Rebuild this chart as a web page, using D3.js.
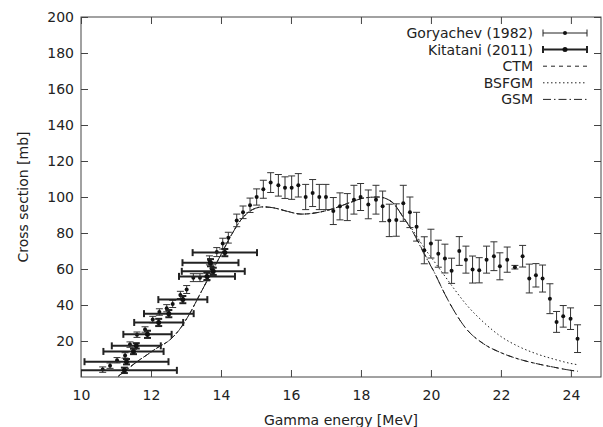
<!DOCTYPE html>
<html>
<head>
<meta charset="utf-8">
<script src="https://cdn.jsdelivr.net/npm/d3@7"></script>
<style>
body { margin: 0; background: #fff; }
text { font-family: "DejaVu Sans", sans-serif; fill: #222; }
</style>
</head>
<body>
<script>
width = 603
height = 427

// Goryachev (1982): energy, cross section, error
goryE = [10.62, 10.83, 11.03, 11.26, 11.40, 11.60, 11.83, 12.05, 12.24, 12.45, 12.62, 12.84,
    13.02, 13.21, 13.40, 13.59, 13.67, 13.73, 13.88, 14.05, 14.21, 14.45, 14.63, 14.83,
    15.02, 15.21, 15.42, 15.64, 15.83, 16.02, 16.21, 16.42, 16.62, 16.81, 17.00, 17.21,
    17.40, 17.61, 17.80, 17.99, 18.21, 18.43, 18.62, 18.81, 19.01, 19.21, 19.40, 19.59,
    19.81, 20.00, 20.21, 20.40, 20.59, 20.81, 21.00, 21.19, 21.38, 21.59, 21.80, 21.97,
    22.18, 22.40, 22.62, 22.81, 23.00, 23.19, 23.40, 23.59, 23.78, 23.99, 24.19]
goryS = [4.1, 6.3, 9.3, 12.0, 18.0, 23.5, 26.4, 31.9, 36.1, 38.2, 40.6, 45.6,
    48.6, 55.2, 55.2, 55.9, 64.8, 60.2, 69.4, 74.1, 77.4, 87.0, 91.5, 95.4,
    100.0, 104.3, 108.0, 106.5, 105.2, 105.2, 106.5, 100.0, 102.2, 100.0, 100.0, 92.2,
    94.8, 94.4, 98.5, 100.0, 95.9, 98.5, 94.8, 87.0, 87.2, 96.5, 91.5, 83.5,
    70.4, 74.1, 68.5, 65.8, 59.0, 70.0, 65.2, 59.7, 59.3, 65.2, 67.1, 61.5,
    65.2, 61.0, 67.1, 54.7, 56.5, 54.7, 43.5, 30.6, 33.7, 32.4, 21.3]
goryErr = [1.5, 1.5, 1.5, 1.5, 1.5, 1.5, 1.5, 1.8, 1.8, 2, 2, 2,
    2.2, 2.2, 2.2, 2.5, 2.5, 2.5, 2.5, 3, 3, 3.5, 3.5, 4,
    4.5, 5, 5.5, 6, 6, 6.5, 6.5, 7, 7.5, 7, 7, 7.5,
    7.5, 7.5, 8, 7.5, 8, 8, 8.5, 9, 9, 10, 8.5, 8,
    7.5, 8, 7.5, 8, 7, 8, 7.5, 7.5, 7, 7.5, 8, 7.5,
    7, 1, 6, 8, 6.5, 7.5, 8.3, 5.8, 6, 6, 7.7]

// Kitatani (2011): energy, cross section, energy spread, error
kitE = [11.24, 11.30, 11.50, 11.58, 11.90, 12.22, 12.51, 12.91, 13.60, 13.70, 13.78, 14.11]
kitS = [3.7, 8.5, 14.2, 17.3, 23.7, 30.3, 35.2, 43.0, 55.9, 63.5, 58.7, 69.1]
kitDE = [1.5, 1.2, 0.86, 0.7, 0.69, 0.7, 0.71, 0.7, 0.8, 0.8, 0.9, 0.92]
kitDS = [1.5, 1.5, 1.5, 1.5, 2, 2, 2, 2, 2, 2, 2, 2]

// model curves
curveE = [11.07, 11.3, 11.6, 11.9, 12.2, 12.5, 12.8, 13.1, 13.4, 13.7, 14.0, 14.3, 14.6, 14.9,
    15.2, 15.5, 15.9, 16.3, 16.8, 17.2, 17.7, 18.1, 18.5, 18.9, 19.2, 19.5, 19.8, 20.1,
    20.4, 20.7, 21.0, 21.5, 22.0, 22.5, 23.0, 23.5, 24.0, 24.2]
ctm = [0.5, 4, 8.5, 12.5, 16.5, 20, 26, 35, 46, 57, 68, 79, 88, 93,
    94.5, 94, 92, 90.5, 91.5, 93.5, 97, 99.5, 100, 97, 89, 80, 69, 58,
    46, 35.5, 27, 18.5, 13.5, 10, 7.5, 5.5, 3.7, 3.2]
bsfgm = [0.5, 4, 8.5, 12.5, 16.5, 20, 26, 35, 46, 57, 68, 79, 88, 93,
    94.5, 94, 92, 90.5, 91.5, 93.5, 97, 99.5, 100, 97, 89, 81, 72, 64,
    56, 48, 40.5, 30.5, 22.5, 17, 13, 10, 7.5, 6.8]
gsm = [0.5, 4, 8.5, 12.5, 16.5, 20, 26, 35, 46, 57, 68, 79, 88, 93,
    94.5, 94, 92, 90.5, 91.5, 93.5, 97, 99.5, 100, 97, 89, 80, 68.5, 58,
    46, 35.5, 27, 18.5, 13.5, 10, 7.5, 5.5, 3.7, 3.2]

xTicks = [10, 12, 14, 16, 18, 20, 22, 24]
yTicks = [20, 40, 60, 80, 100, 120, 140, 160, 180, 200]
legendLabels = ["Goryachev (1982)", "Kitatani (2011)", "CTM", "BSFGM", "GSM"]

var ink = "#222"

svg = d3.select("body")
    .append("svg")
    .attr("width", width)
    .attr("height", height);

var x = d3.scaleLinear()
    .domain([10, 24.86])
    .range([81, 601]);

var y = d3.scaleLinear()
    .domain([0, 200])
    .range([377, 17]);

// clip for the plot area
svg.append("clipPath")
    .attr("id", "plotclip")
    .append("rect")
    .attr("x", 81)
    .attr("y", 17)
    .attr("width", 520)
    .attr("height", 360);

// axes, ticks pointing inward (gnuplot style)
svg.append("g")
    .attr("transform", "translate(0,377)")
    .call(d3.axisBottom(x).tickValues(xTicks).tickSizeInner(-7).tickSizeOuter(0).tickPadding(13))
    .call(g => g.select(".domain").remove());
svg.append("g")
    .attr("transform", "translate(0,17)")
    .call(d3.axisTop(x).tickValues(xTicks).tickSizeInner(-7).tickSizeOuter(0).tickFormat(""))
    .call(g => g.select(".domain").remove());
svg.append("g")
    .attr("transform", "translate(81,0)")
    .call(d3.axisLeft(y).tickValues(yTicks).tickSizeInner(-7).tickSizeOuter(0).tickPadding(7))
    .call(g => g.select(".domain").remove());
svg.append("g")
    .attr("transform", "translate(601,0)")
    .call(d3.axisRight(y).tickValues(yTicks).tickSizeInner(-7).tickSizeOuter(0).tickFormat(""))
    .call(g => g.select(".domain").remove());

svg.selectAll(".tick line").attr("stroke", "#444");
svg.selectAll(".tick text")
    .attr("font-size", 14)
    .attr("font-family", "DejaVu Sans, sans-serif")
    .attr("fill", ink);

// frame
svg.append("rect")
    .attr("x", 81)
    .attr("y", 17)
    .attr("width", 520)
    .attr("height", 360)
    .attr("fill", "none")
    .attr("stroke", "#444");

// axis titles
svg.append("text")
    .text("Gamma energy [MeV]")
    .attr("x", 341)
    .attr("y", 425)
    .attr("text-anchor", "middle")
    .attr("font-size", 14);
svg.append("text")
    .text("Cross section [mb]")
    .attr("transform", "translate(28,197) rotate(-90)")
    .attr("text-anchor", "middle")
    .attr("font-size", 14);

var plot = svg.append("g").attr("clip-path", "url(#plotclip)");

// model curves
var models = [
    {vals: ctm, dash: "4,4"},
    {vals: bsfgm, dash: "1.5,2.5"},
    {vals: gsm, dash: "8,3,1.5,3"}
];
models.forEach(function(m) {
    var line = d3.line()
        .x((d, i) => x(curveE[i]))
        .y(d => y(d))
        .curve(d3.curveMonotoneX);
    plot.append("path")
        .datum(m.vals)
        .attr("d", line)
        .attr("fill", "none")
        .attr("stroke", ink)
        .attr("stroke-width", 1)
        .attr("stroke-dasharray", m.dash);
});

// Goryachev points with vertical error bars
var gory = plot.selectAll("g.gory")
    .data(goryE)
    .enter()
    .append("g")
    .attr("class", "gory")
    .attr("stroke", "#333")
    .attr("stroke-width", 1);
gory.append("line")
    .attr("x1", d => x(d)).attr("x2", d => x(d))
    .attr("y1", (d, i) => y(goryS[i] - goryErr[i]))
    .attr("y2", (d, i) => y(goryS[i] + goryErr[i]));
gory.append("line")
    .attr("x1", d => x(d) - 3.5).attr("x2", d => x(d) + 3.5)
    .attr("y1", (d, i) => y(goryS[i] - goryErr[i]))
    .attr("y2", (d, i) => y(goryS[i] - goryErr[i]));
gory.append("line")
    .attr("x1", d => x(d) - 3.5).attr("x2", d => x(d) + 3.5)
    .attr("y1", (d, i) => y(goryS[i] + goryErr[i]))
    .attr("y2", (d, i) => y(goryS[i] + goryErr[i]));
gory.append("circle")
    .attr("cx", d => x(d))
    .attr("cy", (d, i) => y(goryS[i]))
    .attr("r", 2)
    .attr("stroke", "none")
    .attr("fill", "#111");

// Kitatani points with x and y error bars (thicker)
var kit = plot.selectAll("g.kit")
    .data(kitE)
    .enter()
    .append("g")
    .attr("class", "kit")
    .attr("stroke", "#222")
    .attr("stroke-width", 2);
kit.append("line")
    .attr("x1", (d, i) => x(d - kitDE[i])).attr("x2", (d, i) => x(d + kitDE[i]))
    .attr("y1", (d, i) => y(kitS[i])).attr("y2", (d, i) => y(kitS[i]));
kit.append("line")
    .attr("x1", (d, i) => x(d - kitDE[i])).attr("x2", (d, i) => x(d - kitDE[i]))
    .attr("y1", (d, i) => y(kitS[i]) - 3.5).attr("y2", (d, i) => y(kitS[i]) + 3.5);
kit.append("line")
    .attr("x1", (d, i) => x(d + kitDE[i])).attr("x2", (d, i) => x(d + kitDE[i]))
    .attr("y1", (d, i) => y(kitS[i]) - 3.5).attr("y2", (d, i) => y(kitS[i]) + 3.5);
kit.append("line")
    .attr("x1", d => x(d)).attr("x2", d => x(d))
    .attr("y1", (d, i) => y(kitS[i] - kitDS[i])).attr("y2", (d, i) => y(kitS[i] + kitDS[i]));
kit.append("line")
    .attr("x1", d => x(d) - 3.5).attr("x2", d => x(d) + 3.5)
    .attr("y1", (d, i) => y(kitS[i] - kitDS[i])).attr("y2", (d, i) => y(kitS[i] - kitDS[i]));
kit.append("line")
    .attr("x1", d => x(d) - 3.5).attr("x2", d => x(d) + 3.5)
    .attr("y1", (d, i) => y(kitS[i] + kitDS[i])).attr("y2", (d, i) => y(kitS[i] + kitDS[i]));
kit.append("circle")
    .attr("cx", d => x(d))
    .attr("cy", (d, i) => y(kitS[i]))
    .attr("r", 2.5)
    .attr("stroke", "none")
    .attr("fill", "#111");

// legend
var legend = svg.selectAll("g.legend")
    .data(legendLabels)
    .enter()
    .append("g")
    .attr("class", "legend")
    .attr("transform", (d, i) => "translate(0," + (33 + i * 16.6) + ")");
legend.append("text")
    .text(d => d)
    .attr("x", 533)
    .attr("y", 0)
    .attr("dy", "0.35em")
    .attr("text-anchor", "end")
    .attr("font-size", 14);

// error bar samples: stroke only on the lines, not the text
legend.filter((d, i) => i < 2).each(function(d, i) {
    var g = d3.select(this).append("g")
        .attr("stroke", "#222")
        .attr("stroke-width", i == 0 ? 1 : 2);
    g.append("line").attr("x1", 543).attr("x2", 587).attr("y1", 0).attr("y2", 0);
    g.append("line").attr("x1", 543).attr("x2", 543).attr("y1", -3.5).attr("y2", 3.5);
    g.append("line").attr("x1", 587).attr("x2", 587).attr("y1", -3.5).attr("y2", 3.5);
    g.append("circle").attr("cx", 565).attr("cy", 0).attr("r", i == 0 ? 2 : 2.5)
        .attr("stroke", "none").attr("fill", "#111");
});
legend.filter((d, i) => i >= 2).each(function(d, i) {
    d3.select(this).append("line")
        .attr("x1", 543).attr("x2", 587).attr("y1", 0).attr("y2", 0)
        .attr("stroke", ink)
        .attr("stroke-width", 1)
        .attr("stroke-dasharray", models[i].dash);
});
</script>
</body>
</html>
